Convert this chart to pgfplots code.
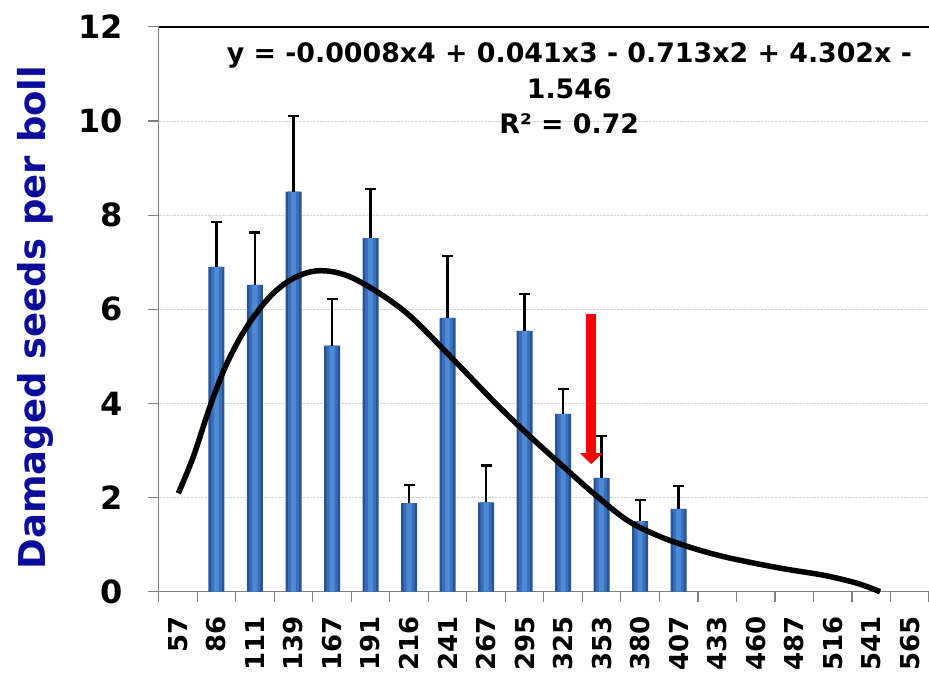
\documentclass[border=0pt]{standalone}
\usepackage{pgfplots}
\pgfplotsset{compat=1.18}
\usetikzlibrary{arrows.meta}
\usepackage{fontspec}
\setmainfont{DejaVu Sans}
\definecolor{barA}{RGB}{40,84,150}
\definecolor{barB}{RGB}{56,110,186}
\definecolor{barC}{RGB}{76,138,214}
\definecolor{labblue}{RGB}{12,12,155}
\pgfplotstableread{
x y
2 6.90
3 6.52
4 8.50
5 5.23
6 7.51
7 1.88
8 5.82
9 1.90
10 5.54
11 3.78
12 2.42
13 1.50
14 1.76
}\bars
% upper error bars: bar top -> cap, and caps
\pgfplotstableread{
x y
2 6.90
2 7.86
nan nan
1.857 7.86
2.143 7.86
nan nan
3 6.52
3 7.63
nan nan
2.857 7.63
3.143 7.63
nan nan
4 8.50
4 10.11
nan nan
3.857 10.11
4.143 10.11
nan nan
5 5.23
5 6.22
nan nan
4.857 6.22
5.143 6.22
nan nan
6 7.51
6 8.56
nan nan
5.857 8.56
6.143 8.56
nan nan
7 1.88
7 2.27
nan nan
6.857 2.27
7.143 2.27
nan nan
8 5.82
8 7.13
nan nan
7.857 7.13
8.143 7.13
nan nan
9 1.90
9 2.68
nan nan
8.857 2.68
9.143 2.68
nan nan
10 5.54
10 6.32
nan nan
9.857 6.32
10.143 6.32
nan nan
11 3.78
11 4.31
nan nan
10.857 4.31
11.143 4.31
nan nan
12 2.42
12 3.31
nan nan
11.857 3.31
12.143 3.31
nan nan
13 1.50
13 1.95
nan nan
12.857 1.95
13.143 1.95
nan nan
14 1.76
14 2.25
nan nan
13.857 2.25
14.143 2.25
}\errs
\begin{document}
\begin{tikzpicture}[x=1pt,y=1pt]
\begin{axis}[
  at={(0,0)}, anchor=south west,
  scale only axis, width=770.3pt, height=564.8pt,
  xmin=0.5, xmax=20.5, ymin=0, ymax=12,
  clip=false,
  axis x line*=bottom, axis y line*=left,
  axis line style={gray, line width=1.2pt},
  xtick={1,...,20},
  xticklabels={57,86,111,139,167,191,216,241,267,295,325,353,380,407,433,460,487,516,541,565},
  major x tick style={draw=none},
  minor xtick={0.5,1.5,...,20.5},
  ytick={0,2,...,12},
  tick align=outside,
  major tick length=11pt, minor tick length=10pt,
  tick style={gray, line width=1.2pt},
  ymajorgrids,
  grid style={gray!35, densely dotted, line width=0.8pt},
  /pgf/number format/assume math mode=true,
  yticklabel style={font=\bfseries\fontsize{32}{32}\selectfont, xshift=-21pt},
  xticklabel style={font=\bfseries\fontsize{26}{26}\selectfont, yshift=-10pt, rotate=90, anchor=east},
]
\addplot[ybar, bar width=16pt, draw=none, fill=barA, forget plot] table[x=x, y=y] {\bars};
\addplot[ybar, bar width=11pt, draw=none, fill=barB, forget plot] table[x=x, y=y] {\bars};
\addplot[ybar, bar width=5pt, draw=none, fill=barC, forget plot] table[x=x, y=y] {\bars};
\addplot[black, line width=2.4pt, mark=none, unbounded coords=jump, forget plot]
  table[x=x, y=y] {\errs};
\addplot[black, line width=5.5pt, smooth, tension=0.55, mark=none] coordinates {
(1.01,2.09) (1.40,2.87) (1.83,3.93) (2.27,4.85) (2.79,5.63) (3.39,6.27) (4.0,6.66)
(4.69,6.82) (5.55,6.66) (6.85,5.98) (8.07,5.0) (9.19,4.05) (10.06,3.36) (10.92,2.72)
(11.79,2.09) (12.66,1.52) (13.52,1.17) (14.39,0.92) (15.3,0.72) (16.64,0.50)
(17.76,0.35) (18.63,0.18) (19.23,0.0)};
\draw[black, line width=1.5pt] (axis cs:0.5,12) -- (axis cs:20.5,12);
\draw[red, line width=10pt, -{Triangle[width=22pt 0, length=11pt 0]}] (axis cs:11.73,5.89) -- (axis cs:11.73,2.71);
\node[anchor=base, font=\bfseries\fontsize{26.8}{26.8}\selectfont, inner sep=0pt] at (axis cs:11.16,11.254) {y = -0.0008x4 + 0.041x3 - 0.713x2 + 4.302x -};
\node[anchor=base, font=\bfseries\fontsize{26.8}{26.8}\selectfont, inner sep=0pt] at (axis cs:11.16,10.489) {1.546};
\node[anchor=base, font=\bfseries\fontsize{26.8}{26.8}\selectfont, inner sep=0pt] at (axis cs:11.16,9.745) {R² = 0.72};
\node[rotate=90, anchor=base, inner sep=0pt, text=labblue, font=\bfseries\fontsize{37}{37}\selectfont] at (rel axis cs:-0.1476,0.4855) {Damaged seeds per boll};
\end{axis}
\pgfresetboundingbox
\useasboundingbox (-158.7,-85.3) rectangle (770.3,591.7);
\end{tikzpicture}
\end{document}
